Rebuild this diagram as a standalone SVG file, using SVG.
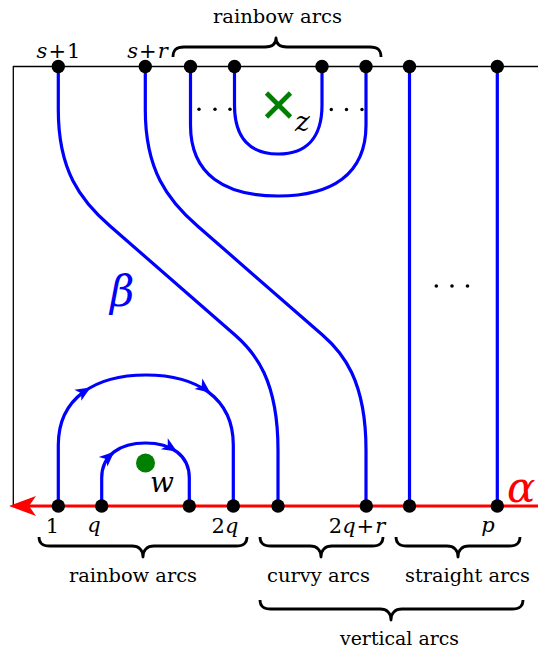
<svg xmlns="http://www.w3.org/2000/svg" xmlns:xlink="http://www.w3.org/1999/xlink" width="538" height="654" viewBox="0 0 538 654">
<style>
.frame{stroke:#000;stroke-width:1.3;fill:none}
.beta{stroke:#0000ff;stroke-width:3.2;fill:none}
.alpha{stroke:#ff0000;stroke-width:3;fill:none}
.brace{stroke:#000;stroke-width:2.8;fill:none;stroke-linejoin:round}
.dot{fill:#000}
.sdot{fill:#000}
.lbl{font-family:"DejaVu Serif",serif;font-size:19px;fill:#000}
.math{font-family:"DejaVu Serif",serif;font-size:21px;fill:#000}
.it{font-style:italic}
</style>
<defs>
<path id="ah" d="M3,0 L-12,-6.5 L-8,0 L-12,6.5 Z" fill="#0000ff"/>
</defs>

<g id="frame">
<path class="frame" d="M13,66.5 L538,66.5 M13.3,66 L13.3,506"/>
</g>

<g id="connectors">
<path class="alpha" d="M28,506 L538,506"/>
<path d="M9,506 L36,496 L29,506 L36,516 Z" fill="#ff0000"/>
<path class="beta" d="M190.5,66 L190.5,125 C190.5,175 225,196 278.3,196 C331,196 366,175 366,125 L366,66"/>
<path class="beta" d="M234.5,66 L234.5,105 C234.5,138 250,154 278.3,154 C306,154 322,138 322,105 L322,66"/>
<path class="beta" d="M58.3,66 L58.3,110 C58.3,170 80,200 110,226 L235,335 C255,352.4 278,380 278,450 L278,506"/>
<path class="beta" d="M145.3,66 L145.3,110 C145.3,170 167.5,200 197.5,226 L322.5,335 C342.5,352.4 366,380 366,450 L366,506"/>
<path class="beta" d="M409.5,66 L409.5,506 M497.3,66 L497.3,506"/>
<path class="beta" d="M58.3,506 L58.3,445 C58.3,398 95,375 146,375 C197,375 233.3,398 233.3,445 L233.3,506"/>
<path class="beta" d="M101.7,506 L101.7,478 C101.7,455 120,443 145.5,443 C171,443 189.3,455 189.3,478 L189.3,506"/>
<use xlink:href="#ah" transform="translate(88,389) rotate(-32)"/>
<use xlink:href="#ah" transform="translate(208,391) rotate(37)"/>
<use xlink:href="#ah" transform="translate(112,453.7) rotate(-42)"/>
<use xlink:href="#ah" transform="translate(174.5,450) rotate(32)"/>
</g>

<g id="top-points">
<g id="t1"><circle class="dot" cx="58.3" cy="66.5" r="6.7"/></g>
<g id="t2"><circle class="dot" cx="145.3" cy="66.5" r="6.7"/></g>
<g id="t3"><circle class="dot" cx="190.5" cy="66.5" r="6.7"/></g>
<g id="t4"><circle class="dot" cx="234.5" cy="66.5" r="6.7"/></g>
<g id="t5"><circle class="dot" cx="322" cy="66.5" r="6.7"/></g>
<g id="t6"><circle class="dot" cx="366" cy="66.5" r="6.7"/></g>
<g id="t7"><circle class="dot" cx="409.5" cy="66.5" r="6.7"/></g>
<g id="t8"><circle class="dot" cx="497.3" cy="66.5" r="6.7"/></g>
</g>

<g id="bottom-points">
<g id="b1"><circle class="dot" cx="58.3" cy="506" r="6.7"/></g>
<g id="b2"><circle class="dot" cx="101.7" cy="506" r="6.7"/></g>
<g id="b3"><circle class="dot" cx="189.3" cy="506" r="6.7"/></g>
<g id="b4"><circle class="dot" cx="233.3" cy="506" r="6.7"/></g>
<g id="b5"><circle class="dot" cx="278" cy="506" r="6.7"/></g>
<g id="b6"><circle class="dot" cx="366.3" cy="506" r="6.7"/></g>
<g id="b7"><circle class="dot" cx="409.5" cy="506" r="6.7"/></g>
<g id="b8"><circle class="dot" cx="497.3" cy="506" r="6.7"/></g>
</g>

<g id="ellipses">
<circle class="sdot" cx="199" cy="109.3" r="1.7"/>
<circle class="sdot" cx="215" cy="109.3" r="1.7"/>
<circle class="sdot" cx="230" cy="109.3" r="1.7"/>
<circle class="sdot" cx="331.3" cy="109.5" r="1.7"/>
<circle class="sdot" cx="346.5" cy="109.5" r="1.7"/>
<circle class="sdot" cx="362" cy="109.5" r="1.7"/>
<circle class="sdot" cx="436.3" cy="286" r="1.8"/>
<circle class="sdot" cx="452" cy="286" r="1.8"/>
<circle class="sdot" cx="467.5" cy="286" r="1.8"/>
</g>

<g id="basepoint-z">
<path d="M266.5,93 L290.5,117 M290.5,93 L266.5,117" stroke="#008000" stroke-width="4.6" fill="none"/>
<text class="math it" x="295" y="131" style="font-size:28px">z</text>
</g>
<g id="basepoint-w">
<circle cx="145.5" cy="463" r="9.5" fill="#008000"/>
<text class="math it" x="150" y="492" style="font-size:28px">w</text>
</g>

<g id="curve-labels">
<text class="math it" x="110" y="306" style="font-size:42px;fill:#0000ff">β</text>
<text class="math it" x="507" y="502" style="font-size:42px;fill:#ff0000">α</text>
</g>

<g id="point-labels">
<text class="math" x="58.5" y="58" text-anchor="middle"><tspan class="it">s</tspan><tspan dx="1">+</tspan><tspan dx="1">1</tspan></text>
<text class="math" x="147.5" y="58" text-anchor="middle"><tspan class="it">s</tspan><tspan dx="1">+</tspan><tspan class="it" dx="1">r</tspan></text>
<text class="math" x="52.5" y="533" text-anchor="middle">1</text>
<text class="math it" x="94" y="532" text-anchor="middle">q</text>
<text class="math" x="225" y="533" text-anchor="middle">2<tspan class="it">q</tspan></text>
<text class="math" x="357" y="533" text-anchor="middle">2<tspan class="it">q</tspan><tspan dx="1">+</tspan><tspan class="it" dx="1">r</tspan></text>
<text class="math it" x="488" y="532" text-anchor="middle">p</text>
</g>

<g id="brace-labels">
<text class="lbl" x="213" y="23" textLength="129" lengthAdjust="spacingAndGlyphs">rainbow arcs</text>
<text class="lbl" x="69" y="582" textLength="128" lengthAdjust="spacingAndGlyphs">rainbow arcs</text>
<text class="lbl" x="267" y="582" textLength="103" lengthAdjust="spacingAndGlyphs">curvy arcs</text>
<text class="lbl" x="405" y="582" textLength="125" lengthAdjust="spacingAndGlyphs">straight arcs</text>
<text class="lbl" x="340" y="645" textLength="119" lengthAdjust="spacingAndGlyphs">vertical arcs</text>
</g>

<g id="braces">
<path class="brace" d="M173,57 C173,50 176,47 184,47 L265,47 C272,47 276,44 276,38 C276,44 280,47 287,47 L370,47 C378,47 381,50 381,57"/>
<path class="brace" d="M39,537 C39,543 42,546 50,546 L132,546 C139,546 143,550 143,557 C143,550 147,546 154,546 L236,546 C244,546 247,543 247,537"/>
<path class="brace" d="M260,537 C260,543 263,546 271,546 L310,546 C317,546 321,550 321,557 C321,550 325,546 332,546 L372,546 C380,546 383,543 383,537"/>
<path class="brace" d="M396,537 C396,543 399,546 407,546 L447,546 C454,546 458,550 458,557 C458,550 462,546 469,546 L509,546 C517,546 520,543 520,537"/>
<path class="brace" d="M260,600 C260,606 263,609 271,609 L380,609 C387,609 391,613 391,620 C391,613 395,609 402,609 L512,609 C520,609 523,606 523,600"/>
</g>
</svg>
